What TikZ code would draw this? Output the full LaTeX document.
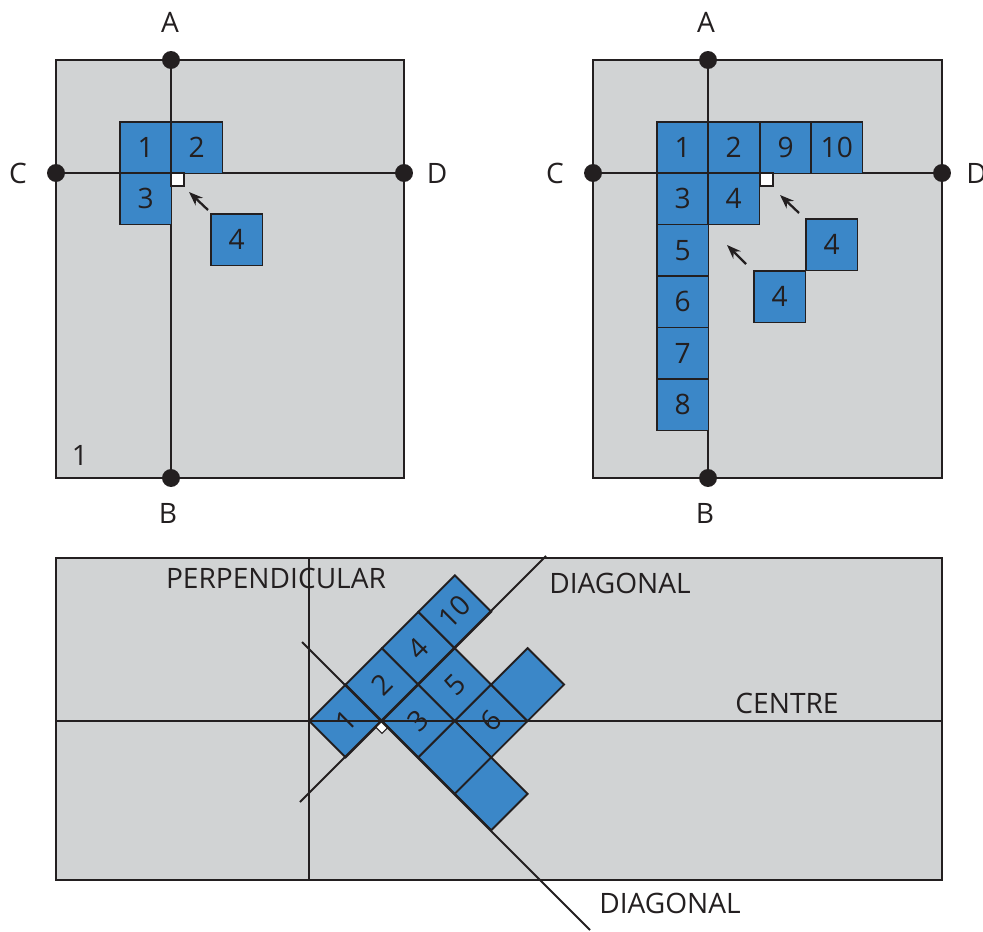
\documentclass[tikz,border=0pt]{standalone}
\usepackage{fontspec}
\setmainfont{Open Sans}
\usetikzlibrary{arrows.meta}
\definecolor{sheet}{RGB}{209,211,212}
\definecolor{tileblue}{RGB}{59,135,200}
\definecolor{ink}{RGB}{35,31,32}
\tikzset{
  tile/.style={fill=tileblue,draw=ink,line width=1.1pt},
  lbl/.style={font=\fontsize{16}{18}\selectfont,text=ink,inner sep=0pt},
  axisline/.style={draw=ink,line width=1.1pt},
  pin/.style={fill=ink},
  rightang/.style={draw=ink,fill=white,line width=0.6pt},
  push/.style={draw=ink,line width=1.3pt,-{Stealth[length=8pt,width=6pt]}}
}
\begin{document}
\begin{tikzpicture}[x=0.02cm,y=-0.02cm]
\useasboundingbox (0,0) rectangle (983,932);

% first sheet
\draw[axisline,fill=sheet] (56,60) rectangle (404,478);
\draw[axisline] (171,60) -- (171,478);
\draw[axisline] (56,173) -- (404,173);
\foreach \x/\y/\t [count=\i] in {120/122/1,171/122/2,120/173/3,211/214/4}
  {\draw[tile] (\x,\y) rectangle ++(51.5,51.5);
   \node[lbl] (one\i) at (\x+25.75,\y+25.75) {\t};}
\draw[rightang] (171,173) rectangle ++(13,13);
\draw[push] (208,210) -- (189,192);
\foreach \x/\y in {171/60,171/478,56/173,404/173}
  {\fill[pin] (\x,\y) circle (5.1pt);}
\node[lbl] (oneA) at (170,22) {A};
\node[lbl] (oneB) at (168,513) {B};
\node[lbl] (oneC) at (18,173) {C};
\node[lbl] (oneD) at (437,173) {D};
\node[lbl] (onenum) at (80,455) {1};

% second sheet
\draw[axisline,fill=sheet] (593,60) rectangle (942,478);
\draw[axisline] (708,60) -- (708,478);
\draw[axisline] (593,173) -- (942,173);
\foreach \x/\y/\t [count=\i] in {657/122/1,708/122/2,760/122/9,811/122/10,
    657/173/3,708/173/4,657/224.5/5,657/276/6,657/327.5/7,657/379/8,
    806/219/4,754/271/4}
  {\draw[tile] (\x,\y) rectangle ++(51.5,51.5);
   \node[lbl] (two\i) at (\x+25.75,\y+25.75) {\t};}
\draw[axisline] (708,122) -- (708,224.5);
\draw[rightang] (760,173) rectangle ++(13,13);
\draw[push] (799,213) -- (780,195);
\draw[push] (746,264) -- (727,245);
\foreach \x/\y in {708/60,708/478,593/173,942/173}
  {\fill[pin] (\x,\y) circle (5.1pt);}
\node[lbl] (twoA) at (706,22) {A};
\node[lbl] (twoB) at (705,513) {B};
\node[lbl] (twoC) at (555,173) {C};
\node[lbl,anchor=west] (twoD) at (966,173) {D};

% diagonal sheet
\draw[axisline,fill=sheet] (56,558) rectangle (942,880);
\begin{scope}[shift={(382,721)},x={(0.7282cm,0.7282cm)},y={(0.7282cm,-0.7282cm)}]
\foreach \a/\b/\t [count=\i] in {-1/-1/1,0/-1/2,1/-1/4,2/-1/10,0/0/3,1/0/5,1/1/6,
    2/1/{},0/1/{},0/2/{}}
  {\draw[tile] (\a,\b) -- ++(1,0) -- ++(0,1) -- ++(-1,0) -- cycle;
   \node[lbl,rotate=45] (diag\i) at (\a+0.5,\b+0.5) {\t};}
\draw[rightang] (0,0) -- (-0.17,0) -- (-0.17,0.17) -- (0,0.17) -- cycle;
\end{scope}
\draw[axisline] (309,558) -- (309,880);
\draw[axisline] (56,721) -- (942,721);
\draw[axisline] (300,802) -- (546,556);
\draw[axisline] (302,642) -- (590,930);
\node[lbl] (perp) at (276,578) {PERPENDICULAR};
\node[lbl] (diagup) at (620,583) {DIAGONAL};
\node[lbl] (centre) at (787,703) {CENTRE};
\node[lbl] (diagdown) at (670,903) {DIAGONAL};
\end{tikzpicture}
\end{document}
